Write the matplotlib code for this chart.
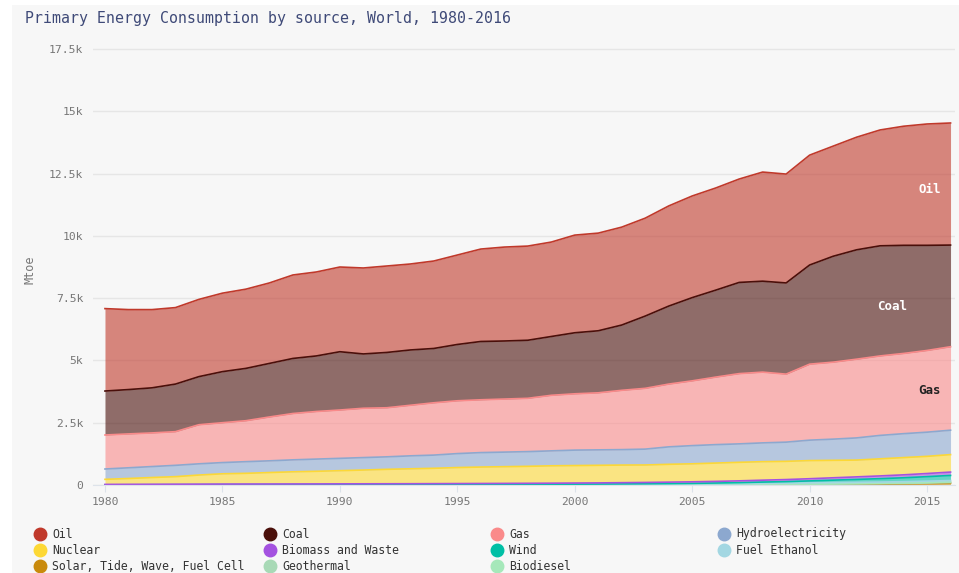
import numpy as np
import matplotlib.pyplot as plt
from matplotlib.lines import Line2D
from matplotlib.patches import Rectangle

years = list(range(1980, 2017))

# Mtoe
oil = [3308, 3210, 3140, 3070, 3100, 3150, 3180, 3230, 3350, 3370,
       3400, 3450, 3470, 3450, 3510, 3590, 3710, 3770, 3780, 3790,
       3920, 3920, 3930, 3930, 4020, 4080, 4100, 4150, 4380, 4370,
       4410, 4420, 4520, 4650, 4780, 4870, 4900]
coal = [1765, 1780, 1810, 1910, 1930, 2050, 2100, 2150, 2210, 2230,
        2340, 2180, 2220, 2220, 2180, 2260, 2340, 2330, 2330, 2360,
        2450, 2490, 2620, 2900, 3130, 3340, 3490, 3660, 3650, 3660,
        3980, 4250, 4390, 4420, 4340, 4220, 4080]
gas = [1365, 1360, 1350, 1351, 1570, 1600, 1644, 1760, 1860, 1910,
       1940, 1980, 1970, 2030, 2100, 2120, 2120, 2130, 2140, 2230,
       2260, 2290, 2380, 2440, 2520, 2600, 2710, 2820, 2840, 2730,
       3050, 3090, 3160, 3190, 3220, 3280, 3350]
hydro = [415, 430, 440, 455, 450, 450, 468, 470, 480, 490,
         495, 500, 501, 520, 530, 560, 580, 585, 590, 600,
         620, 620, 620, 637, 700, 730, 740, 740, 754, 770,
         820, 850, 890, 940, 960, 970, 980]
nuclear = [203, 234, 271, 303, 366, 413, 430, 460, 488, 507,
           529, 553, 580, 599, 616, 643, 660, 671, 682, 698,
           702, 706, 707, 701, 716, 723, 735, 744, 743, 732,
           728, 701, 674, 686, 692, 689, 701]
biomass = [18, 19, 20, 21, 22, 23, 24, 25, 26, 27,
           28, 29, 30, 31, 32, 34, 36, 38, 40, 42,
           45, 47, 50, 53, 57, 61, 66, 71, 76, 81,
           88, 95, 102, 110, 118, 126, 135]
wind = [0, 0, 0, 0, 0, 0, 0, 0, 0.1, 0.2,
        0.5, 0.7, 1, 1.3, 1.7, 2.2, 2.7, 3.5, 4.7, 6.5,
        8, 10, 14, 17, 22, 27, 34, 42, 52, 63,
        78, 98, 117, 136, 155, 180, 205]
ethanol = [2, 3, 4, 5, 6, 7, 7, 7, 7, 7,
           7, 7, 7, 7, 8, 8, 8, 8, 8, 8,
           9, 10, 11, 13, 15, 17, 20, 25, 32, 36,
           42, 44, 45, 47, 50, 53, 55]
solar = [0, 0, 0, 0, 0, 0, 0, 0, 0, 0,
         0.1, 0.1, 0.1, 0.1, 0.1, 0.1, 0.2, 0.2, 0.2, 0.3,
         0.3, 0.5, 0.6, 0.8, 1, 1.3, 1.8, 2.5, 4, 6,
         9, 15, 23, 30, 40, 55, 75]
geothermal = [4, 4.5, 5, 5.5, 6, 7, 7.5, 8, 8.5, 9,
              10, 10.5, 11, 11.5, 12, 12.5, 13, 13.5, 14, 14.5,
              15, 15, 15.5, 16, 16.5, 17, 17.5, 18, 18.5, 19,
              20, 20.5, 21, 21.5, 22, 23, 24]
biodiesel = [0, 0, 0, 0, 0, 0, 0, 0, 0, 0,
             0, 0.1, 0.2, 0.3, 0.4, 0.5, 0.6, 0.7, 0.9, 1,
             1, 1.5, 2, 2.5, 3, 4, 6, 8, 11, 13,
             15, 17, 18, 20, 23, 24, 25]

legend_names = ["Oil", "Coal", "Gas", "Hydroelectricity", "Nuclear", "Biomass and Waste",
                "Wind", "Fuel Ethanol", "Solar, Tide, Wave, Fuel Cell", "Geothermal", "Biodiesel"]
colors = {"Oil": "#c0392b", "Coal": "#4a0f0a", "Gas": "#fa8a8a", "Hydroelectricity": "#8ca8cf",
          "Nuclear": "#fdd835", "Biomass and Waste": "#a452e0", "Wind": "#00bfa5",
          "Fuel Ethanol": "#a3d7e2", "Solar, Tide, Wave, Fuel Cell": "#c98a0c",
          "Geothermal": "#a8d9b6", "Biodiesel": "#a6e8ba"}

# bottom -> top
stack = [("Solar, Tide, Wave, Fuel Cell", solar), ("Geothermal", geothermal),
         ("Biodiesel", biodiesel), ("Fuel Ethanol", ethanol), ("Wind", wind),
         ("Biomass and Waste", biomass), ("Nuclear", nuclear), ("Hydroelectricity", hydro),
         ("Gas", gas), ("Coal", coal), ("Oil", oil)]

bg = "#f7f7f7"
mono = "DejaVu Sans Mono"

fig = plt.figure(figsize=(9.59, 5.73), dpi=100, facecolor="white")
fig.add_artist(Rectangle((12/959, 0), 947/959, 568/573, transform=fig.transFigure,
                         facecolor=bg, edgecolor="none", zorder=-10))

ax = fig.add_axes([93/959, 1 - 485/573, (955-93)/959, (485-42)/573])
ax.set_facecolor(bg)

x = np.array(years)
base = np.zeros(len(years))
for name, vals in stack:
    top = base + np.array(vals, dtype=float)
    ax.fill_between(x, base, top, color=colors[name], alpha=0.6, linewidth=0)
    ax.plot(x, top, color=colors[name], lw=1.2)
    base = top

ax.set_xlim(1979.49, 2016.19)
ax.set_ylim(0, 17781)
yt = [0, 2500, 5000, 7500, 10000, 12500, 15000, 17500]
ax.set_yticks(yt)
ax.set_yticklabels(["0", "2.5k", "5k", "7.5k", "10k", "12.5k", "15k", "17.5k"])
ax.set_xticks(range(1980, 2016, 5))
ax.grid(axis="y", color="#e6e6e6", lw=1)
ax.set_axisbelow(True)
for s in ["top", "right", "left"]:
    ax.spines[s].set_visible(False)
ax.spines["bottom"].set_color("#dde3ea")
ax.tick_params(axis="y", length=0, pad=7, labelsize=8.2, labelcolor="#777777")
ax.tick_params(axis="x", length=5, color="#dde3ea", labelsize=8.2, labelcolor="#777777")
for lab in ax.get_xticklabels() + ax.get_yticklabels():
    lab.set_family(mono)
ax.set_ylabel("Mtoe", family=mono, fontsize=8.5, color="#777777")
ax.yaxis.set_label_coords(-(93 - 37) / 862, (485 - 270) / 443)

ax.text(2015.6, 11850, "Oil", color="white", family=mono, fontsize=9, weight="bold",
        ha="right", va="center")
ax.text(2013.5, 7150, "Coal", color="white", family=mono, fontsize=9, weight="bold",
        ha="center", va="center")
ax.text(2015.6, 3790, "Gas", color="#222222", family=mono, fontsize=9, weight="bold",
        ha="right", va="center")

fig.text(25/959, 1 - 18/573, "Primary Energy Consumption by source, World, 1980-2016",
         family=mono, fontsize=10.7, color="#3f4a78", va="center")

col_x = [40, 270, 497, 724]
row_y = [534, 550, 566]
for i, name in enumerate(legend_names):
    cx = col_x[i % 4] / 959
    cy = 1 - row_y[i // 4] / 573
    fig.add_artist(Line2D([cx], [cy], marker="o", markersize=9, color=colors[name],
                          linestyle="none", transform=fig.transFigure))
    fig.text(cx + 12/959, cy, name, family=mono, fontsize=8.3, color="#333333", va="center")

fig.savefig("out.png", dpi=100, facecolor=fig.get_facecolor())
